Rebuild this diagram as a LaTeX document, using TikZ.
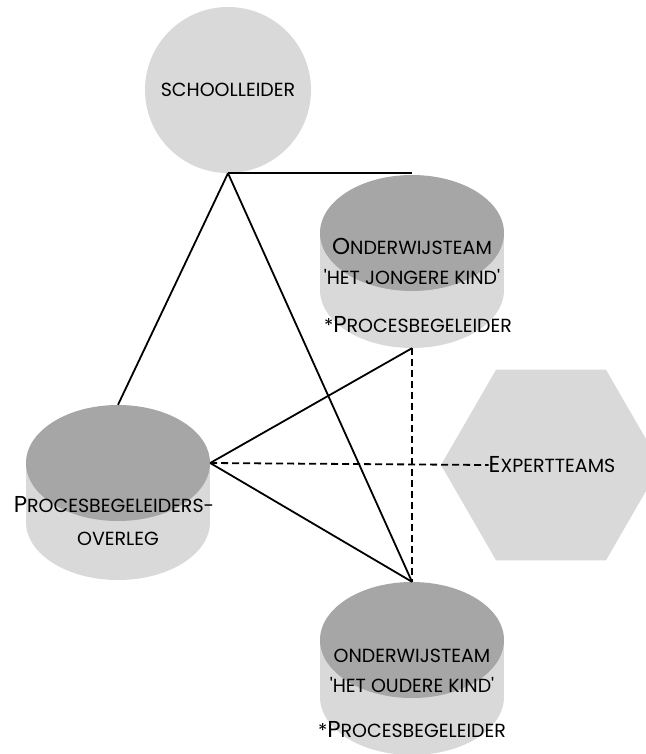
\documentclass[tikz,border=0pt]{standalone}
\usepackage{fontspec}
\setmainfont{Poppins}
\usetikzlibrary{shapes.geometric}
\definecolor{topgray}{HTML}{A6A6A6}
\definecolor{bodygray}{HTML}{D9D9D9}
\newcommand{\bigsc}[1]{{\fontsize{23}{26}\selectfont #1}}
\newcommand{\smsc}[1]{{\fontsize{19}{26}\selectfont\MakeUppercase{#1}}}

\begin{document}
\begin{tikzpicture}[x=1pt, y=-1pt,
  cyltop/.style={ellipse, fill=topgray, minimum width=184pt, minimum height=116pt, inner sep=0pt},
  cylbot/.style={ellipse, fill=bodygray, minimum width=184pt, minimum height=116pt, inner sep=0pt},
  cylbody/.style={rectangle, fill=bodygray, minimum width=184pt, minimum height=57pt, inner sep=0pt},
  txt/.style={inner sep=0pt, anchor=base},
  link/.style={line width=1.8pt},
  dlink/.style={line width=1.8pt, dash pattern=on 7pt off 4pt}]
\useasboundingbox (0,0) rectangle (645,754);

% Schoolleider
\node[circle, fill=bodygray, minimum size=166pt, inner sep=0pt] (sl) at (228,90) {};
\node[txt] (sltxt) at (228,97) {\smsc{schoolleider}};

% Onderwijsteam jongere kind
\node[cylbot] (jb) at (412,290) {};
\node[cylbody] at (412,261.5) {};
\node[cyltop] (jt) at (412,233) {};
\node[txt] (jt1) at (412,254) {\bigsc{O}\smsc{nderwijsteam}};
\node[txt] (jt2) at (412,284) {\smsc{\textquotesingle het jongere kind\textquotesingle}};
\node[txt] (jt3) at (418,332) {\smsc{*}\bigsc{P}\smsc{rocesbegeleider}};

% Procesbegeleidersoverleg
\node[cylbot] (pbb) at (118,522) {};
\node[cylbody] at (118,492.5) {};
\node[cyltop] (pb) at (118,463) {};
\node[txt] (pb1) at (114,512) {\bigsc{P}\smsc{rocesbegeleiders-}};
\node[txt] (pb2) at (118,545) {\smsc{overleg}};

% Onderwijsteam oudere kind
\node[cylbot] (ob) at (412,697) {};
\node[cylbody] at (412,668.5) {};
\node[cyltop] (ot) at (412,640) {};
\node[txt] (ot1) at (412,662) {\smsc{onderwijsteam}};
\node[txt] (ot2) at (412,692) {\smsc{\textquotesingle het oudere kind\textquotesingle}};
\node[txt] (ot3) at (412,737) {\smsc{*}\bigsc{P}\smsc{rocesbegeleider}};

% Expertteams
\node[regular polygon, regular polygon sides=6, fill=bodygray, minimum size=220pt, inner sep=0pt] (hex) at (551,465) {};
\node[inner sep=0pt] (exp) at (552,465) {\bigsc{E}\smsc{xpertteams}};

% connections
\draw[link] (sl.south) -- (sl.south -| jt.north);
\draw[link] (sl.south) -- (pb.north);
\draw[link] (sl.south) -- (ot.north);
\draw[link] (pb.east) -- (jb.south);
\draw[link] (pb.east) -- (ot.north);
\draw[dlink] (jb.south) -- (ot.north);
\draw[dlink] (pb.east) -- (exp.west);

\end{tikzpicture}
\end{document}
